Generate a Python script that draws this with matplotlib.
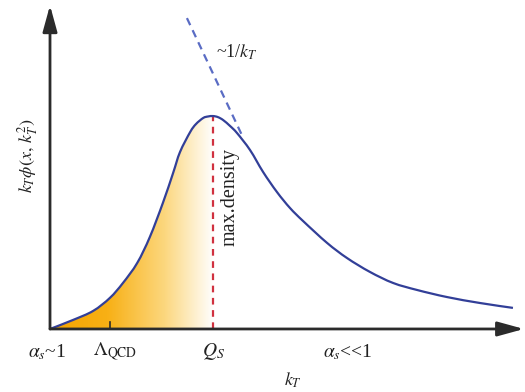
"""
Schematic of the unintegrated gluon distribution k_T*phi(x, k_T^2) with the saturation scale Q_S.
"""
import matplotlib
matplotlib.use("Agg")
import matplotlib.pyplot as plt
from matplotlib.colors import LinearSegmentedColormap
from matplotlib.patches import PathPatch
from matplotlib.path import Path
import numpy as np

plt.rcParams["font.family"] = ["Liberation Serif", "DejaVu Serif"]
plt.rcParams["mathtext.fontset"] = "stix"

# ── data (k_T in units where Q_S = 4, peak height = 1) ──
kT = [0.00, 0.56, 1.06, 1.47, 1.79, 2.14, 2.45, 2.77, 3.02, 3.19, 3.44, 3.58,
      3.76, 3.88, 4.00, 4.12, 4.25, 4.42, 4.59, 4.91, 5.23, 5.57, 5.89, 6.21,
      6.80, 7.29, 7.85, 8.42, 9.01, 9.74, 10.55, 11.36]
phi = [0.000, 0.042, 0.085, 0.146, 0.216, 0.310, 0.432, 0.592, 0.732, 0.831,
       0.925, 0.962, 0.991, 0.998, 1.000, 0.995, 0.981, 0.953, 0.920, 0.840,
       0.737, 0.643, 0.568, 0.507, 0.404, 0.333, 0.268, 0.216, 0.183, 0.150,
       0.122, 0.099]

# ~1/k_T asymptote
kT_tail = [3.36, 4.71]
phi_tail = [1.46, 0.91]

Q_S = 4.0
LAMBDA_QCD = 1.47

tick_labels = [
    (-0.07, r"$\alpha_s$~1"),
    (1.60, r"$\mathit{\Lambda}_{\mathrm{QCD}}$"),
    (Q_S, r"$Q_S$"),
    (7.31, r"$\alpha_s$<<1"),
]

CURVE = "#323f98"
DASH_BLUE = "#5a6cc4"
RED = "#d0313f"
AXIS = "#2b2b2b"


def smooth_path(xs, ys):
    """Catmull-Rom style cubic Bezier through the points (vertices, codes)."""
    pts = np.column_stack([xs, ys])
    verts = [pts[0]]
    codes = [Path.MOVETO]
    n = len(pts)
    for i in range(n - 1):
        p0 = pts[max(i - 1, 0)]
        p1, p2 = pts[i], pts[i + 1]
        p3 = pts[min(i + 2, n - 1)]
        verts += [p1 + (p2 - p0) / 6, p2 - (p3 - p1) / 6, p2]
        codes += [Path.CURVE4] * 3
    return verts, codes


fig = plt.figure(figsize=(5.25, 3.92), dpi=100)
ax = fig.add_axes([0, 0, 1, 1])
ax.set_xlim(-1.227, 11.656)
ax.set_ylim(-0.296, 1.545)
ax.axis("off")

# gradient fill under the rising part of the curve
cmap = LinearSegmentedColormap.from_list(
    "glow", [(0.0, "#f5a400"), (0.35, "#f8b015"), (0.7, "#fcd77e"), (1.0, "#ffffff")])
grad = np.linspace(0, 1, 256).reshape(1, -1)
img = ax.imshow(grad, extent=[0, Q_S, 0, 1.0], aspect="auto", cmap=cmap,
                origin="lower", zorder=1)
n_rise = sum(1 for x in kT if x <= Q_S)
v, c = smooth_path(kT[:n_rise], phi[:n_rise])
v += [(Q_S, 0), (0, 0)]
c += [Path.LINETO, Path.CLOSEPOLY]
clip = PathPatch(Path(v, c), transform=ax.transData, facecolor="none",
                 edgecolor="none")
ax.add_patch(clip)
img.set_clip_path(clip)

# curve and guides
v, c = smooth_path(kT, phi)
ax.add_patch(PathPatch(Path(v, c), facecolor="none", edgecolor=CURVE, lw=1.6,
                       zorder=4))
ax.plot(kT_tail, phi_tail, color=DASH_BLUE, lw=1.6, dashes=(3.5, 2.5), zorder=3)
ax.plot([Q_S, Q_S], [0, 1.0], color=RED, lw=1.6, dashes=(3, 2.5), zorder=3)

# axes with arrow heads
arrow = dict(arrowstyle="-|>,head_length=0.8,head_width=0.22", color=AXIS,
             lw=2, mutation_scale=20, shrinkA=0, shrinkB=0)
ax.annotate("", xy=(0, 1.52), xytext=(0, 0), arrowprops=arrow, zorder=5)
ax.annotate("", xy=(11.63, 0), xytext=(0, 0), arrowprops=arrow, zorder=5)
ax.plot([LAMBDA_QCD, LAMBDA_QCD], [0, 0.035], color=AXIS, lw=1.2, zorder=5)

for x, txt in tick_labels:
    ax.text(x, -0.108, txt, ha="center", va="center", fontsize=14, color="#222")

ax.text(5.96, -0.24, r"$k_T$", ha="center", va="center", fontsize=13, color="#222")
ax.text(-0.55, 0.815, r"$k_T\phi(x,\,k_T^2)$", ha="center", va="center",
        rotation=90, fontsize=13, color="#222")
ax.text(4.58, 1.30, r"~1/$k_T$", ha="center", va="center", fontsize=13, color="#222")
ax.text(4.42, 0.62, "max.density", ha="center", va="center", rotation=90,
        fontsize=14.5, color="#222")

fig.savefig("out.png", dpi=100)
